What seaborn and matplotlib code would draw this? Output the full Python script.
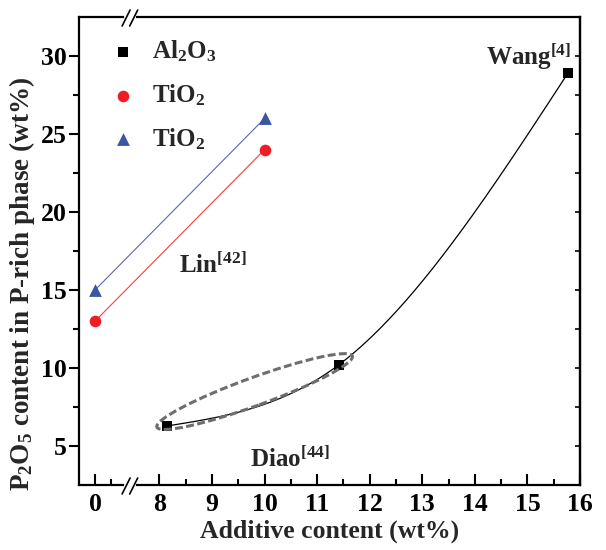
import numpy as np
import pandas as pd
import seaborn as sns
import matplotlib
matplotlib.use("Agg")
import matplotlib.pyplot as plt
from matplotlib.patches import Ellipse
from matplotlib.lines import Line2D
from matplotlib import transforms as mtransforms
from matplotlib.ticker import FixedLocator, NullFormatter

# ---- data -------------------------------------------------------------
al2o3_x = [8.14, 11.41, 15.77]
al2o3_y = [6.28, 10.2, 28.9]
tio2_lin_x = [0, 10]
tio2_lin_y = [13, 24]
tio2_tri_x = [0, 10]
tio2_tri_y = [15, 26]

x_major = [0, 8, 9, 10, 11, 12, 13, 14, 15, 16]
x_minor = [0.5, 8.5, 9.5, 10.5, 11.5, 12.5, 13.5, 14.5, 15.5]
y_major = [5, 10, 15, 20, 25, 30]
y_minor = [7.5, 12.5, 17.5, 22.5, 27.5]

refs = [("Wang", "[4]", 15.03, 29.5),
        ("Lin", "[42]", 9.01, 16.15),
        ("Diao", "[44]", 10.49, 3.72)]

# ---- style ------------------------------------------------------------
sns.set_style("ticks")
plt.rcParams.update({
    "font.family": ["Liberation Serif", "DejaVu Serif"],
    "font.weight": "bold",
    "axes.labelweight": "bold",
    "mathtext.fontset": "custom",
    "mathtext.rm": "Liberation Serif:bold",
    "mathtext.bf": "Liberation Serif:bold",
    "mathtext.it": "Liberation Serif:bold:italic",
    "axes.linewidth": 1.6,
    "axes.edgecolor": "black",
    "xtick.color": "black",
    "ytick.color": "black",
})

BLACK = "#000000"
RED = "#ee1c25"
BLUE = "#3a55a4"

fig = plt.figure(figsize=(6.06, 5.5), dpi=100)
ax = fig.add_axes([79 / 606, 1 - 485 / 550, (580 - 79) / 606, (485 - 17) / 550])

# broken x axis: short segment around 0, long segment from 7.5 to 16
def fwd(x):
    x = np.asarray(x, dtype=float)
    return np.where(x <= 1.0, (x + 0.5) * 32.0,
                    np.where(x >= 7.5, 54.2 + (x - 7.5) * 52.56,
                             48.0 + (x - 1.0) * (6.2 / 6.5)))

def inv(d):
    d = np.asarray(d, dtype=float)
    return np.where(d <= 48.0, d / 32.0 - 0.5,
                    np.where(d >= 54.2, 7.5 + (d - 54.2) / 52.56,
                             1.0 + (d - 48.0) * (6.5 / 6.2)))

ax.set_xscale("function", functions=(fwd, inv))

# smooth natural cubic spline through the Al2O3 points
def natural_spline(xk, yk, n=300):
    xk = np.asarray(xk, float)
    yk = np.asarray(yk, float)
    m = len(xk)
    h = np.diff(xk)
    A = np.zeros((m, m))
    r = np.zeros(m)
    A[0, 0] = A[-1, -1] = 1.0
    for i in range(1, m - 1):
        A[i, i - 1] = h[i - 1]
        A[i, i] = 2 * (h[i - 1] + h[i])
        A[i, i + 1] = h[i]
        r[i] = 6 * ((yk[i + 1] - yk[i]) / h[i] - (yk[i] - yk[i - 1]) / h[i - 1])
    M = np.linalg.solve(A, r)
    xs = np.linspace(xk[0], xk[-1], n)
    idx = np.clip(np.searchsorted(xk, xs) - 1, 0, m - 2)
    x0, x1 = xk[idx], xk[idx + 1]
    hh = x1 - x0
    ys = (M[idx] * (x1 - xs) ** 3 / (6 * hh) + M[idx + 1] * (xs - x0) ** 3 / (6 * hh)
          + (yk[idx] / hh - M[idx] * hh / 6) * (x1 - xs)
          + (yk[idx + 1] / hh - M[idx + 1] * hh / 6) * (xs - x0))
    return xs, ys

sx, sy = natural_spline(al2o3_x, al2o3_y)
sns.lineplot(x=sx, y=sy, ax=ax, color=BLACK, lw=0.9, sort=False,
             estimator=None, legend=False, zorder=2)
sns.lineplot(x=tio2_lin_x, y=tio2_lin_y, ax=ax, color="#ff3b3b", lw=0.8,
             estimator=None, legend=False, zorder=2)
sns.lineplot(x=tio2_tri_x, y=tio2_tri_y, ax=ax, color="#5a68b4", lw=0.8,
             estimator=None, legend=False, zorder=2)

sns.scatterplot(x=al2o3_x, y=al2o3_y, ax=ax, marker="s", s=55, color=BLACK,
                linewidth=0, label=r"Al$_2$O$_3$", zorder=4)
sns.scatterplot(x=tio2_lin_x, y=tio2_lin_y, ax=ax, marker="o", s=70, color=RED,
                linewidth=0, label=r"TiO$_2$", zorder=4)
sns.scatterplot(x=tio2_tri_x, y=tio2_tri_y, ax=ax, marker="^", s=85, color=BLUE,
                linewidth=0, label=r"TiO$_2$", zorder=4)

ax.set_xlim(-0.5, 16)
ax.set_ylim(2.5, 32.5)

ax.xaxis.set_major_locator(FixedLocator(x_major))
ax.xaxis.set_minor_locator(FixedLocator(x_minor))
ax.xaxis.set_minor_formatter(NullFormatter())
ax.set_xticklabels([str(v) for v in x_major])
ax.yaxis.set_major_locator(FixedLocator(y_major))
ax.yaxis.set_minor_locator(FixedLocator(y_minor))
ax.yaxis.set_minor_formatter(NullFormatter())

ax.tick_params(axis="x", which="major", direction="in", length=8, width=1.5,
               labelsize=18.5, pad=6, top=False)
ax.tick_params(axis="x", which="minor", direction="in", length=4, width=1.5, top=False)
ax.tick_params(axis="y", which="major", direction="out", length=7, width=1.5,
               labelsize=18.5, pad=1.5)
ax.tick_params(axis="y", which="minor", direction="out", length=4, width=1.5)

right = ax.secondary_yaxis("right")
right.yaxis.set_major_locator(FixedLocator(y_major))
right.yaxis.set_minor_locator(FixedLocator(y_minor))
right.tick_params(axis="y", which="both", direction="in", length=3.5, width=1.2,
                  labelright=False)
right.spines["right"].set_linewidth(1.6)

for s in ax.spines.values():
    s.set_visible(True)
    s.set_linewidth(1.6)

ax.set_xlabel("Additive content (wt%)", fontsize=18.5, fontweight="bold", labelpad=2)
ax.set_ylabel(r"P$_2$O$_5$ content in P-rich phase (wt%)", fontsize=19.5,
              fontweight="bold")
ax.yaxis.set_label_coords(-0.083, 0.43)

leg = ax.legend(loc="upper left", bbox_to_anchor=(0.051, 0.975), frameon=False,
                fontsize=18, handlelength=0.7, handletextpad=0.8,
                labelspacing=0.72, borderaxespad=0)

for name, sup, xx, yy in refs:
    ax.text(xx, yy, name + r"$^{" + sup + "}$", fontsize=18, fontweight="bold",
            ha="center", va="baseline", zorder=5)

# dashed ellipse around the Diao points, sized in pixels
fig.canvas.draw()
cx, cy = ax.transData.transform((9.81, 8.49))
ell = Ellipse((cx, cy), 208, 28, angle=20, transform=mtransforms.IdentityTransform(),
              fill=False, edgecolor="#6e6e6e", lw=2.2, linestyle=(0, (2.6, 1.1)),
              zorder=3)
fig.add_artist(ell)

# axis-break marks on the bottom and top spines
bx_disp = ax.transData.transform((4.25, 0))[0]
ax_box = ax.get_window_extent()
for yb in (ax_box.y0, ax_box.y1):
    gap = Line2D([bx_disp - 3.8, bx_disp + 3.8], [yb, yb], color="white", lw=3,
                 transform=mtransforms.IdentityTransform(), zorder=10)
    fig.add_artist(gap)
    for dx in (-3.8, 3.8):
        seg = Line2D([bx_disp + dx - 4.2, bx_disp + dx + 3.8], [yb - 9, yb + 7],
                     color="black", lw=1.2,
                     transform=mtransforms.IdentityTransform(), zorder=11)
        fig.add_artist(seg)

fig.savefig("out.png", dpi=100)
